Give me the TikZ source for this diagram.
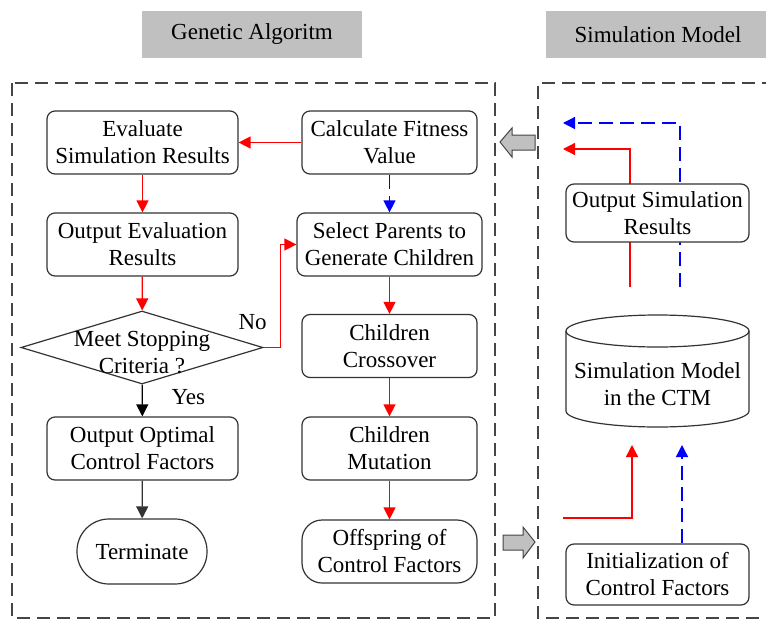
\documentclass[tikz,border=0pt]{standalone}
\usepackage{fontspec}
\setmainfont{Liberation Serif}
\usetikzlibrary{shapes.geometric,arrows.meta}
\definecolor{boxline}{HTML}{333333}
\definecolor{frameline}{HTML}{454545}
\definecolor{headgray}{HTML}{C0C0C0}
\definecolor{flowred}{HTML}{FF0000}
\definecolor{flowblue}{HTML}{0000FF}
\begin{document}
\begin{tikzpicture}[x=1pt,y=-1pt,font=\fontsize{23}{27}\selectfont,
  proc/.style={draw=boxline,line width=1.2pt,rounded corners=8pt,align=center,minimum height=63pt,inner sep=2pt,fill=white},
  term/.style={proc,rounded corners=32pt},
  decision/.style={draw=boxline,line width=1.2pt,diamond,minimum width=242pt,minimum height=73pt,inner sep=0pt},
  frame/.style={draw=frameline,line width=1.6pt,dash pattern=on 13pt off 7pt},
  head/.style={fill=headgray,minimum height=47pt},
  tip/.style={-{Triangle[length=12pt,width=12pt]}},
  redarrow/.style={tip,draw=flowred,line width=1.3pt},
  bluearrow/.style={tip,draw=flowblue,line width=1.3pt,dash pattern=on 14pt off 7pt},
  blackarrow/.style={tip,draw=black,line width=1.3pt},
  grayarrow/.style={tip,draw=boxline,line width=1.3pt},
  blockarrow/.style={fill=headgray,draw=frameline,line width=1pt}]
\useasboundingbox (0,0) rectangle (766,621);
\clip (0,0) rectangle (766,621);
\node[head,minimum width=220pt] (galabel) at (252,34.5) {Genetic Algoritm};
\node[head,minimum width=224pt] (smlabel) at (658,34.5) {Simulation Model};
\draw[frame] (12,83) rectangle (495,618);
\draw[frame] (775,83) -- (538,83) -- (538,618) -- (775,618);
\node[proc,minimum width=191pt] (eval) at (142.5,142.5) {Evaluate\\Simulation Results};
\node[proc,minimum width=175pt] (calc) at (389.5,142.5) {Calculate Fitness\\Value};
\node[proc,minimum width=191pt] (evalout) at (142.5,244.5) {Output Evaluation\\Results};
\node[proc,minimum width=185pt] (select) at (389.5,244.5) {Select Parents to\\Generate Children};
\node[decision,label={[align=center,yshift=-5pt]center:Meet Stopping\\Criteria ?}] (dec) at (142,347.5) {};
\node[proc,minimum width=175pt] (cross) at (389.5,346) {Children\\Crossover};
\node[proc,minimum width=191pt] (optimal) at (142.5,448.5) {Output Optimal\\Control Factors};
\node[proc,minimum width=175pt] (mutate) at (389.5,448.5) {Children\\Mutation};
\node[term,minimum width=130pt,minimum height=65pt] (stop) at (142,551.5) {Terminate};
\node[proc,rounded corners=20pt,minimum width=175pt] (offspring) at (389.5,551.5) {Offspring of\\Control Factors};
\draw[redarrow] (calc) -- (eval);
\draw[bluearrow] (calc) -- (select);
\draw[redarrow] (eval) -- (evalout);
\draw[redarrow] (evalout) -- (dec);
\draw[redarrow] (dec.east) -- ++(17,0) node[black,xshift=-28pt,yshift=25pt] (nolabel) {No} |- (select.west);
\draw[blackarrow] (dec) -- node[black,xshift=46pt,yshift=3pt] (yeslabel) {Yes} (optimal);
\draw[grayarrow] (optimal) -- (stop);
\draw[redarrow] (select) -- (cross);
\draw[redarrow] (cross) -- (mutate);
\draw[redarrow] (mutate) -- (offspring);
\coordinate (redup) at (630,287);
\coordinate (redback) at (563,149);
\coordinate (blueup) at (680,287);
\coordinate (blueback) at (563,123);
\draw[redarrow] (redup) |- (redback);
\draw[bluearrow] (blueup) |- (blueback);
\node[proc,minimum width=183pt,minimum height=58pt] (simout) at (657.5,213) {Output Simulation\\Results};
\draw[boxline,line width=1.2pt,fill=white] (566,331) -- (566,411) arc[start angle=180,end angle=360,x radius=91.5pt,y radius=16pt] -- (749,331);
\draw[boxline,line width=1.2pt] (657.5,331) ellipse [x radius=91.5pt,y radius=16pt];
\node[align=center] (sim) at (657.5,384) {Simulation Model\\in the CTM};
\node[proc,minimum width=183pt,minimum height=61pt] (init) at (657.5,574.5) {Initialization of\\Control Factors};
\coordinate (redin) at (563,518);
\coordinate (redtip) at (632,445);
\coordinate (bluetip) at (682,445);
\draw[redarrow] (redin) -| (redtip);
\draw[bluearrow] (init.north -| bluetip) -- (bluetip);
\filldraw[blockarrow] (500,142) -- (512,128) -- (512,135) -- (535,135) -- (535,150) -- (512,150) -- (512,157) -- cycle;
\filldraw[blockarrow] (535,542) -- (523,527) -- (523,535) -- (503,535) -- (503,550) -- (523,550) -- (523,558) -- cycle;
\end{tikzpicture}
\end{document}
